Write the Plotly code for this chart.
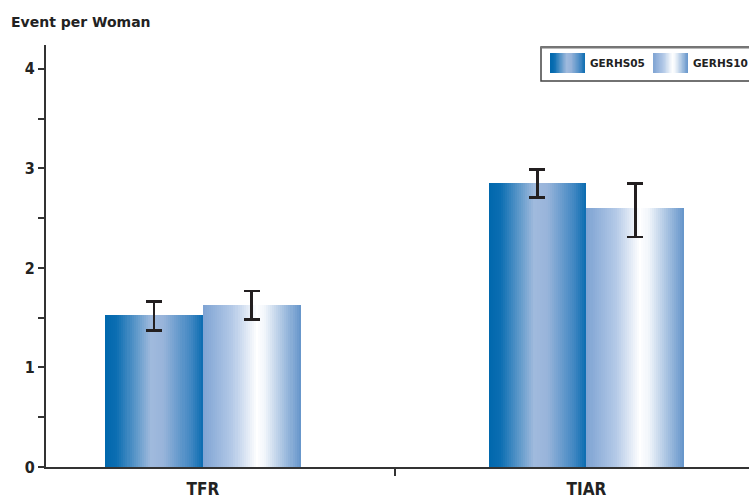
import plotly.graph_objects as go

# ---- data ----
categories = ["TFR", "TIAR"]
series_names = ["GERHS05", "GERHS10"]
gerhs05 = [1.53, 2.85]
gerhs05_hi = [1.66, 2.99]
gerhs05_lo = [1.37, 2.71]
gerhs10 = [1.63, 2.60]
gerhs10_hi = [1.77, 2.85]
gerhs10_lo = [1.48, 2.31]
y_tick_vals = [0, 1, 2, 3, 4]

# ---- styling ----
W, H = 749, 498
ML, MR, MT, MB = 46, 0, 45, 31
BAR_W = 0.255
N_SLICES = 48
AXIS_COLOR = "#333333"
FONT = "DejaVu Sans"
FONT_C = "DejaVu Sans Condensed"

grad05 = [(0.0, "#0067ac"), (0.12, "#0b6eb2"), (0.47, "#a0badd"), (0.6, "#98b4da"), (0.88, "#3f86c2"), (1.0, "#0a6cb0")]
grad10 = [(0.0, "#7ea3d3"), (0.3, "#b3c9e7"), (0.55, "#ffffff"), (0.63, "#f2f6fb"), (1.0, "#6494ca")]


def hex2rgb(h):
    h = h.lstrip("#")
    return tuple(int(h[i:i + 2], 16) for i in (0, 2, 4))


def interp(stops, t):
    for (t0, c0), (t1, c1) in zip(stops[:-1], stops[1:]):
        if t0 <= t <= t1:
            f = 0 if t1 == t0 else (t - t0) / (t1 - t0)
            a, b = hex2rgb(c0), hex2rgb(c1)
            return "rgb(%d,%d,%d)" % tuple(round(a[i] + (b[i] - a[i]) * f) for i in range(3))
    return stops[-1][1]


fig = go.Figure()

series = [
    (series_names[0], gerhs05, gerhs05_hi, gerhs05_lo, grad05, -BAR_W),
    (series_names[1], gerhs10, gerhs10_hi, gerhs10_lo, grad10, 0.0),
]

sw = BAR_W / N_SLICES
for name, vals, hi, lo, grad, off0 in series:
    for k in range(N_SLICES):
        t = (k + 0.5) / N_SLICES
        w = sw * 1.6 if k < N_SLICES - 1 else sw
        fig.add_trace(go.Bar(
            x=categories, y=vals, offset=off0 + k * sw, width=w,
            marker=dict(color=interp(grad, t), line=dict(width=0)),
            showlegend=False, hoverinfo="skip", name=name,
        ))
    # transparent full bar carrying the error bars
    fig.add_trace(go.Bar(
        x=categories, y=vals, offset=off0, width=BAR_W,
        marker=dict(color="rgba(0,0,0,0)", line=dict(width=0)),
        error_y=dict(type="data", symmetric=False,
                     array=[h - v for h, v in zip(hi, vals)],
                     arrayminus=[v - l for v, l in zip(vals, lo)],
                     color="#231f20", thickness=2.6, width=8),
        showlegend=False, name=name,
    ))

# ---- custom legend (gradient swatches) ----
def px_x(X):
    return (X - ML) / (W - ML - MR)


def px_y(Y):
    return (H - MB - Y) / (H - MT - MB)


shapes = []
shapes.append(dict(type="rect", xref="paper", yref="paper",
                   x0=px_x(541), x1=px_x(760), y0=px_y(81), y1=px_y(47),
                   line=dict(color="#444444", width=1.5), fillcolor="white", layer="below"))
shapes.append(dict(type="line", xref="paper", yref="paper",
                   x0=px_x(541), x1=px_x(760), y0=px_y(47.5), y1=px_y(47.5),
                   line=dict(color="#777777", width=2)))
legend_items = [(series_names[0], grad05, 550), (series_names[1], grad10, 653)]
NS = 24
annotations = []
for name, grad, x0 in legend_items:
    sww = 35 / NS
    for k in range(NS):
        t = (k + 0.5) / NS
        x1 = x0 + (k + 1) * sww + (1.2 if k < NS - 1 else 0)
        shapes.append(dict(type="rect", xref="paper", yref="paper",
                           x0=px_x(x0 + k * sww), x1=px_x(x1),
                           y0=px_y(73), y1=px_y(53),
                           line=dict(width=0), fillcolor=interp(grad, t)))
    annotations.append(dict(xref="paper", yref="paper", x=px_x(x0 + 38), y=px_y(63),
                            xanchor="left", yanchor="middle", showarrow=False,
                            text="<b>%s</b>" % name,
                            font=dict(family=FONT, size=10.5, color="#222222")))

annotations.append(dict(xref="paper", yref="paper", x=px_x(9), y=px_y(22),
                        xanchor="left", yanchor="middle", showarrow=False,
                        text="<b>Event per Woman</b>",
                        font=dict(family=FONT, size=14, color="#222222")))

fig.update_layout(
    width=W, height=H,
    margin=dict(l=ML, r=MR, t=MT, b=MB),
    paper_bgcolor="white", plot_bgcolor="white",
    barmode="overlay", bargap=0,
    showlegend=False,
    font=dict(family=FONT, color="#222222"),
    shapes=shapes, annotations=annotations,
    hovermode=False,
)
fig.update_xaxes(
    type="category", categoryorder="array", categoryarray=categories,
    range=[-0.409, 1.424], tickson="boundaries",
    showline=True, linecolor=AXIS_COLOR, linewidth=2,
    ticks="outside", ticklen=7, tickwidth=2, tickcolor=AXIS_COLOR,
    ticklabelstandoff=6,
    tickfont=dict(family=FONT_C, size=17, color="#222222", weight="bold"),
    showgrid=False, zeroline=False, fixedrange=True,
)
fig.update_yaxes(
    range=[0, 4.24], tickvals=y_tick_vals,
    showline=True, linecolor=AXIS_COLOR, linewidth=2,
    ticks="outside", ticklen=6, tickwidth=2, tickcolor=AXIS_COLOR,
    minor=dict(dtick=0.5, ticks="outside", ticklen=6, tickwidth=2, tickcolor=AXIS_COLOR),
    tickfont=dict(family=FONT_C, size=16, color="#222222", weight="bold"),
    showgrid=False, zeroline=False, fixedrange=True,
)

fig.write_html(
    "out.html",
    config={"displayModeBar": False, "staticPlot": True},
    post_script="document.body.style.margin='0';document.body.style.overflow='hidden';",
)
